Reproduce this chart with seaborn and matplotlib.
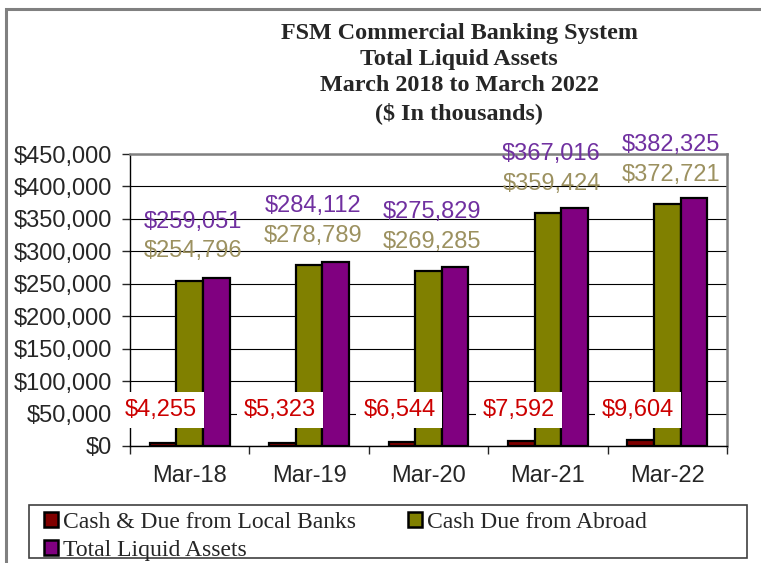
import pandas as pd
import matplotlib.pyplot as plt
import matplotlib.patches as mpatches
import seaborn as sns

# data
periods = ["Mar-18", "Mar-19", "Mar-20", "Mar-21", "Mar-22"]
local_banks = [4255, 5323, 6544, 7592, 9604]
abroad = [254796, 278789, 269285, 359424, 372721]
total_liquid = [259051, 284112, 275829, 367016, 382325]
series_names = ["Cash & Due from Local Banks", "Cash Due from Abroad", "Total Liquid Assets"]
y_ticks = [0, 50000, 100000, 150000, 200000, 250000, 300000, 350000, 400000, 450000]

bar_colors = ["#800000", "#808000", "#800080"]
label_colors = ["#CC0000", "#9C9160", "#7030A0"]

df = pd.DataFrame({
    "period": periods * 3,
    "value": local_banks + abroad + total_liquid,
    "series": [s for s in series_names for _ in periods],
})

sns.set_style("white")
plt.rcParams["font.family"] = ["Liberation Sans", "DejaVu Sans"]

W, H = 761, 563
fig = plt.figure(figsize=(W / 100, H / 100), dpi=100)
ax = fig.add_axes([130 / W, 1 - 446 / H, (727 - 130) / W, (446 - 154) / H])

sns.barplot(data=df, x="period", y="value", hue="series", palette=bar_colors,
            width=0.67, edgecolor="black", linewidth=1.6, saturation=1,
            legend=False, ax=ax)

ax.set_ylim(0, 450000)
ax.set_xlim(-0.5, 4.5)
ax.set_yticks(y_ticks)
ax.set_yticklabels([f"${v:,.0f}" for v in y_ticks], fontsize=17)
ax.set_xticks(range(len(periods)))
ax.set_xticklabels(periods, fontsize=17)
ax.tick_params(axis="x", length=0, pad=14)
ax.tick_params(axis="y", length=6, width=1, direction="out", left=True, pad=7)
# category separator ticks on the x axis
ax.set_xticks([i - 0.5 for i in range(len(periods) + 1)], minor=True)
ax.tick_params(axis="x", which="minor", length=6, width=1, direction="out", bottom=True)
ax.set_xlabel("")
ax.set_ylabel("")
ax.yaxis.grid(True, color="black", linewidth=0.8)
ax.set_axisbelow(True)
for side in ["top", "right"]:
    ax.spines[side].set_color("#808080")
    ax.spines[side].set_linewidth(1.8)
for side in ["left", "bottom"]:
    ax.spines[side].set_color("black")
    ax.spines[side].set_linewidth(1)

# data labels
local_bars = ax.containers[0]
for i in range(len(periods)):
    b = local_bars[i]
    ax.text(b.get_x() + b.get_width() / 2 - 0.02, 55000, f"${local_banks[i]:,}",
            color=label_colors[0], fontsize=17, ha="center", va="center",
            bbox=dict(facecolor="white", edgecolor="none", pad=5))
    xc = i + 0.03
    ax.text(xc, abroad[i] + 45000, f"${abroad[i]:,}", color=label_colors[1],
            fontsize=17, ha="center", va="center", clip_on=False)
    ax.text(xc, abroad[i] + 91000, f"${total_liquid[i]:,}", color=label_colors[2],
            fontsize=17, ha="center", va="center", clip_on=False)

# title
fig.text(459 / W, 1 - 23 / H,
         "FSM Commercial Banking System\nTotal Liquid Assets\nMarch 2018 to March 2022\n($ In thousands)",
         ha="center", va="top", fontsize=17.4, fontweight="bold",
         family=["Liberation Serif", "DejaVu Serif"], linespacing=1.32)

# legend, row-wise order: local, abroad / total
handles = [mpatches.Patch(facecolor=c, edgecolor="black", linewidth=1.8) for c in bar_colors]
order = [0, 2, 1]
fig.legend([handles[k] for k in order], [series_names[k] for k in order],
           loc="upper left", bbox_to_anchor=(44 / W, 1 - 512 / H),
           ncol=2, frameon=False,
           prop={"family": ["Liberation Serif", "DejaVu Serif"], "size": 17},
           handlelength=0.6, handleheight=0.6, handletextpad=0.2,
           columnspacing=2.2, borderpad=0, labelspacing=0.3, borderaxespad=0)
fig.add_artist(mpatches.Rectangle((29 / W, 1 - 558 / H), (747 - 29) / W, (558 - 505) / H,
                                  transform=fig.transFigure, fill=False,
                                  edgecolor="#404040", linewidth=1.2))

# outer chart border (cropped at right and bottom)
fig.add_artist(mpatches.Rectangle((6 / W, -0.1), 1.2, (H - 9) / H + 0.1,
                                  transform=fig.transFigure, fill=False,
                                  edgecolor="#808080", linewidth=2.2))

fig.savefig("out.png", dpi=100)
